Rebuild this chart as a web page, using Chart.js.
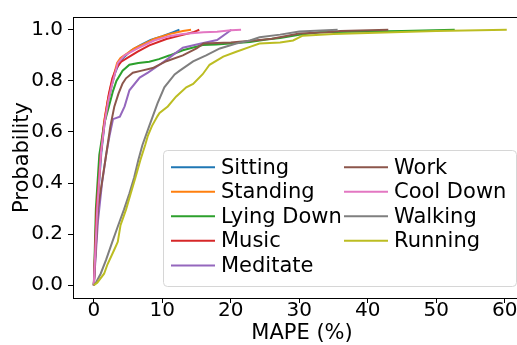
<!DOCTYPE html>
<html>
<head>
<meta charset="utf-8">
<script src="https://cdn.jsdelivr.net/npm/chart.js@4"></script>
<style>
  html, body { margin: 0; padding: 0; background: #fff; overflow: hidden; }
  #wrap { width: 540px; height: 345px; }
</style>
</head>
<body>
<div id="wrap"><canvas id="mycanvas"></canvas></div>
<script>
// CDF of MAPE (%) per activity
var labels = ["Sitting", "Standing", "Lying Down", "Music", "Meditate", "Work", "Cool Down", "Walking", "Running"];
var colors = ["#1f77b4", "#ff7f0e", "#2ca02c", "#d62728", "#9467bd", "#8c564b", "#e377c2", "#7f7f7f", "#bcbd22"];

var sittingX = [0, 0.5, 1.1, 1.6, 2.1, 2.6, 3.1, 3.7, 4.3, 5.5, 6.8, 8.3, 10, 11.5, 12.5];
var sittingY = [0, 0.30, 0.52, 0.64, 0.72, 0.78, 0.83, 0.87, 0.89, 0.92, 0.94, 0.96, 0.975, 0.99, 1.0];

var standingX = [0, 0.5, 1.0, 1.5, 2.0, 2.5, 3.0, 3.4, 3.9, 5.0, 5.9, 7.4, 8.8, 11, 13, 14.2];
var standingY = [0, 0.30, 0.52, 0.64, 0.72, 0.78, 0.83, 0.87, 0.89, 0.91, 0.927, 0.946, 0.964, 0.983, 0.995, 1.0];

var lyingX = [0, 0.3, 0.8, 1.5, 2.2, 2.8, 3.3, 4.2, 5.2, 6.5, 8.1, 9.5, 11.1, 13, 15.9, 17.9, 22.8, 25.2, 27.2, 30, 33, 40, 45, 52.7];
var lyingY = [0, 0.30, 0.51, 0.63, 0.70, 0.76, 0.80, 0.84, 0.863, 0.87, 0.875, 0.885, 0.90, 0.92, 0.94, 0.942, 0.952, 0.962, 0.968, 0.98, 0.99, 0.993, 0.995, 1.0];

var musicX = [0, 0.4, 1.0, 1.6, 2.2, 2.7, 3.3, 4.0, 4.9, 6.4, 8.1, 10.6, 13, 14.5, 15.4];
var musicY = [0, 0.30, 0.51, 0.65, 0.75, 0.81, 0.85, 0.875, 0.89, 0.914, 0.939, 0.964, 0.98, 0.99, 1.0];

var meditateX = [0, 0.6, 1.2, 1.8, 2.3, 2.8, 3.8, 4.5, 5.2, 6.7, 7.9, 9.6, 11, 13, 15.5, 18, 20.1];
var meditateY = [0, 0.25, 0.40, 0.51, 0.586, 0.65, 0.66, 0.70, 0.763, 0.813, 0.832, 0.863, 0.89, 0.93, 0.945, 0.96, 1.0];

var workX = [0, 0.6, 1.8, 2.4, 3.0, 3.6, 4.2, 4.7, 5.7, 7, 8.6, 10.6, 13, 15, 16, 20, 24.2, 26, 30, 34, 36, 43];
var workY = [0, 0.30, 0.51, 0.62, 0.70, 0.75, 0.79, 0.81, 0.832, 0.84, 0.85, 0.877, 0.90, 0.927, 0.946, 0.95, 0.96, 0.965, 0.985, 0.99, 0.995, 1.0];

var coolX = [0, 0.5, 1.05, 1.6, 2.1, 2.6, 3.1, 3.5, 4.5, 6.4, 8.8, 11, 13, 16, 18, 20, 21.5];
var coolY = [0, 0.30, 0.52, 0.64, 0.72, 0.78, 0.83, 0.87, 0.90, 0.927, 0.958, 0.975, 0.983, 0.99, 0.992, 0.998, 1.0];

var walkingX = [0, 0.3, 1.0, 1.8, 2.7, 3.5, 4.4, 5.2, 5.9, 6.5, 7.1, 8.1, 9.3, 10.3, 11.8, 12.5, 14.5, 16.4, 18.4, 20.8, 22.8, 24.2, 27.2, 30, 35.6];
var walkingY = [0, 0.01, 0.045, 0.10, 0.17, 0.23, 0.296, 0.36, 0.423, 0.49, 0.549, 0.624, 0.712, 0.775, 0.825, 0.839, 0.876, 0.90, 0.927, 0.946, 0.958, 0.971, 0.981, 0.993, 1.0];

var runningX = [0, 0.5, 1.5, 2.0, 3.0, 3.5, 3.9, 4.7, 5.4, 6.1, 6.8, 7.5, 7.9, 8.5, 9.3, 9.6, 10.8, 12, 13.5, 14.5, 15.9, 16.9, 18.9, 20.8, 22.8, 24.2, 27.2, 29.1, 30.5, 35, 43.7, 50, 60.3];
var runningY = [0, 0.01, 0.045, 0.082, 0.14, 0.17, 0.235, 0.296, 0.36, 0.424, 0.49, 0.549, 0.586, 0.624, 0.662, 0.674, 0.70, 0.738, 0.775, 0.788, 0.826, 0.863, 0.895, 0.914, 0.933, 0.946, 0.95, 0.958, 0.977, 0.983, 0.99, 0.995, 1.0];

var seriesX = [sittingX, standingX, lyingX, musicX, meditateX, workX, coolX, walkingX, runningX];
var seriesY = [sittingY, standingY, lyingY, musicY, meditateY, workY, coolY, walkingY, runningY];

var xTicks = [0, 10, 20, 30, 40, 50, 60];
var yTicks = [0, 0.2, 0.4, 0.6, 0.8, 1.0];

var FONT = "'DejaVu Sans', sans-serif";

var datasets = [];
for (var i = 0; i < labels.length; i++) {
	var pts = [];
	for (var j = 0; j < seriesX[i].length; j++) {
		pts.push({x: seriesX[i][j], y: seriesY[i][j]});
	}
	datasets.push({
		label: labels[i],
		data: pts,
		showLine: true,
		fill: false,
		tension: 0,
		borderColor: colors[i],
		backgroundColor: colors[i],
		borderWidth: 2,
		pointRadius: 0,
		order: labels.length - i
	});
}

// box around the axes, matplotlib style
var framePlugin = {
	id: 'frame',
	afterDatasetsDraw: function(chart) {
		var a = chart.chartArea, c = chart.ctx;
		c.save();
		c.strokeStyle = '#000';
		c.lineWidth = 1;
		c.strokeRect(Math.round(a.left) + 0.5, Math.round(a.top) + 0.5, Math.round(a.right - a.left), Math.round(a.bottom - a.top));
		c.restore();
	}
};

// two column legend in the lower right
var legendPlugin = {
	id: 'mplLegend',
	afterDraw: function(chart) {
		var c = chart.ctx;
		var ds = chart.data.datasets;
		c.save();
		c.fillStyle = 'rgba(255,255,255,0.8)';
		c.strokeStyle = '#d6d6d6';
		c.lineWidth = 1;
		c.beginPath();
		c.roundRect(163.5, 150.5, 353, 136, 4);
		c.fill();
		c.stroke();
		c.font = "21px " + FONT;
		c.textBaseline = 'middle';
		c.textAlign = 'left';
		var rowY = [167.3, 191.7, 216.2, 240.8, 265.5];
		for (var k = 0; k < ds.length; k++) {
			var col = k < 5 ? 0 : 1;
			var row = k < 5 ? k : k - 5;
			var lx = col === 0 ? 171 : 344;
			var y = rowY[row];
			c.strokeStyle = ds[k].borderColor;
			c.lineWidth = 2;
			c.beginPath();
			c.moveTo(lx, y);
			c.lineTo(lx + 44, y);
			c.stroke();
			c.fillStyle = '#000';
			c.fillText(ds[k].label, lx + 50, y + 1);
		}
		c.restore();
	}
};

var ctx = document.getElementById('mycanvas');

var chart = new Chart(ctx, {
	type: 'scatter',
	data: { datasets: datasets },
	options: {
		responsive: true,
		maintainAspectRatio: false,
		animation: false,
		devicePixelRatio: 1,
		layout: { padding: { top: 7, right: 9, left: 0, bottom: 0 } },
		plugins: { legend: { display: false }, tooltip: { enabled: false } },
		scales: {
			x: {
				type: 'linear',
				min: -3.04,
				max: 63.84,
				afterBuildTicks: function(scale) { scale.ticks = xTicks.map(function(v) { return {value: v}; }); },
				afterFit: function(scale) { scale.height = 47; },
				grid: { drawOnChartArea: false, tickLength: 5, color: '#000' },
				border: { display: false },
				ticks: { color: '#000', padding: -4, font: { family: FONT, size: 20 }, maxRotation: 0,
					callback: function(v) { return String(v); } },
				title: { display: true, text: 'MAPE (%)', color: '#000', padding: { top: 0, bottom: -1 }, font: { family: FONT, size: 21 } }
			},
			y: {
				type: 'linear',
				min: -0.05,
				max: 1.05,
				afterBuildTicks: function(scale) { scale.ticks = yTicks.map(function(v) { return {value: v}; }); },
				afterFit: function(scale) { scale.width = 73; },
				grid: { drawOnChartArea: false, tickLength: 5, color: '#000' },
				border: { display: false },
				ticks: { color: '#000', padding: 5, font: { family: FONT, size: 20 },
					callback: function(v) { return Number(v).toFixed(1); } },
				title: { display: true, text: 'Probability', color: '#000', padding: { top: 10, bottom: 0 }, font: { family: FONT, size: 21 } }
			}
		}
	},
	plugins: [framePlugin, legendPlugin]
});
</script>
</body>
</html>
